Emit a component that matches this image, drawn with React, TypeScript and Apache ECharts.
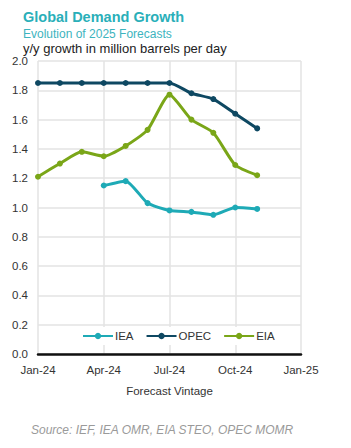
import React, { useEffect, useRef } from "react";
import * as echarts from "echarts";

const months = ["Jan-24","Feb-24","Mar-24","Apr-24","May-24","Jun-24","Jul-24","Aug-24","Sep-24","Oct-24","Nov-24","Dec-24","Jan-25"];
const iea = [null, null, null, 1.15, 1.18, 1.03, 0.98, 0.97, 0.95, 1.0, 0.99, null, null];
const opec = [1.85, 1.85, 1.85, 1.85, 1.85, 1.85, 1.85, 1.78, 1.74, 1.64, 1.54, null, null];
const eia = [1.21, 1.3, 1.38, 1.35, 1.42, 1.53, 1.77, 1.6, 1.51, 1.29, 1.22, null, null];

const FONT = "Liberation Sans, Arial, sans-serif";

export default function App() {
  const ref = useRef<HTMLDivElement>(null);
  useEffect(() => {
    const chart = echarts.init(ref.current!, null, { renderer: "svg" });
    const mk = (name: string, data: any[], color: string) => ({
      name,
      type: "line",
      data,
      smooth: 0.2,
      connectNulls: false,
      symbol: "circle",
      symbolSize: 6,
      lineStyle: { color, width: 3 },
      itemStyle: { color },
    });
    chart.setOption({
      animation: false,
      textStyle: { fontFamily: FONT },
      title: [
        {
          text: "Global Demand Growth",
          left: 18,
          top: 4,
          textStyle: { fontSize: 14.5, fontWeight: "bold", color: "#2AAFB9", fontFamily: FONT },
        },
        {
          text: "Evolution of 2025 Forecasts",
          left: 18,
          top: 23,
          textStyle: { fontSize: 12, fontWeight: "normal", color: "#3DB4BE", fontFamily: FONT },
        },
        {
          text: "y/y growth in million barrels per day",
          left: 18,
          top: 37,
          textStyle: { fontSize: 13, fontWeight: "normal", color: "#222", fontFamily: FONT },
        },
      ],
      legend: {
        data: ["IEA", "OPEC", "EIA"],
        top: 327,
        left: 78,
        itemWidth: 30,
        itemHeight: 8,
        itemGap: 12,
        backgroundColor: "#fff",
        padding: [3, 4],
        textStyle: { fontSize: 11.5, color: "#333", fontFamily: FONT, padding: [0, 0, 0, -3] },
      },
      grid: { left: 38, right: 50, top: 61, bottom: 94, containLabel: false },
      xAxis: {
        type: "category",
        data: months,
        boundaryGap: false,
        name: "Forecast Vintage",
        nameLocation: "middle",
        nameGap: 31,
        nameTextStyle: { fontSize: 11.5, color: "#333", fontFamily: FONT },
        axisLine: { lineStyle: { color: "#111", width: 2.5 } },
        axisTick: { show: false },
        axisLabel: { interval: 2, fontSize: 11.5, color: "#333", margin: 10, fontFamily: FONT },
        splitLine: { show: true, interval: 2, lineStyle: { color: "#e3e3e3", width: 1.5 } },
      },
      yAxis: {
        type: "value",
        min: 0,
        max: 2,
        interval: 0.2,
        axisLine: { show: false },
        axisTick: { show: false },
        axisLabel: { formatter: (v: number) => v.toFixed(1), fontSize: 11.5, color: "#333", margin: 10, fontFamily: FONT },
        splitLine: { lineStyle: { color: "#e3e3e3", width: 1.5 } },
      },
      graphic: [
        {
          type: "text",
          left: 31,
          top: 424,
          style: {
            text: "Source: IEF, IEA OMR, EIA STEO, OPEC MOMR",
            fontSize: 12,
            fontStyle: "italic",
            fill: "#9a9a9a",
            fontFamily: FONT,
          },
        },
      ],
      series: [
        mk("IEA", iea, "#1EAAB6"),
        mk("OPEC", opec, "#0E4862"),
        mk("EIA", eia, "#7AA618"),
      ],
    });
    return () => chart.dispose();
  }, []);
  return (
    <div
      ref={ref}
      style={{ position: "fixed", left: 0, top: 0, width: 351, height: 448, background: "#fff" }}
    />
  );
}
